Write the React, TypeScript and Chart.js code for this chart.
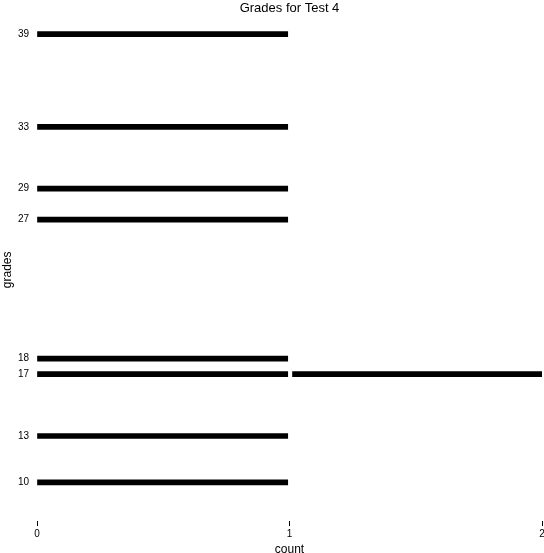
import React, { useEffect, useRef } from "react";
import { Chart, registerables } from "chart.js";

Chart.register(...registerables);

const TITLE = "Grades for Test 4";
const GRADES = [10, 13, 17, 18, 27, 29, 33, 39];
const COUNTS = [1, 1, 2, 1, 1, 1, 1, 1];
const X_TICKS = [0, 1, 2];
const X_LABEL = "count";
const Y_LABEL = "grades";

export default function App() {
  const ref = useRef<HTMLCanvasElement | null>(null);

  useEffect(() => {
    if (!ref.current) return;
    const segs: { x: [number, number]; y: number }[] = [];
    GRADES.forEach((g, i) => {
      for (let k = 0; k < COUNTS[i]; k++) {
        segs.push({ x: [k + (k > 0 ? 0.012 : 0), k + 1 - (k + 1 < COUNTS[i] || COUNTS[i] === 1 ? 0.007 : 0)], y: g });
      }
    });
    const font = "'Liberation Sans', Arial, Helvetica, sans-serif";
    const chart = new Chart(ref.current, {
      type: "bar",
      data: {
        datasets: [
          {
            data: segs as any,
            backgroundColor: "#000000",
            borderWidth: 0,
            barThickness: 5,
          },
        ],
      },
      options: {
        animation: false,
        responsive: false,
        indexAxis: "y",
        layout: { padding: 0 },
        plugins: {
          legend: { display: false },
          tooltip: { enabled: false },
          title: {
            display: true,
            text: TITLE,
            fullSize: false,
            color: "#000000",
            font: { family: font, size: 13, weight: "normal" },
            padding: { top: 1, bottom: 2 },
          },
        },
        scales: {
          x: {
            type: "linear",
            min: X_TICKS[0],
            max: X_TICKS[X_TICKS.length - 1],
            offset: false,
            afterBuildTicks: (s: any) => {
              s.ticks = X_TICKS.map((v) => ({ value: v }));
            },
            afterFit: (s: any) => {
              s.height = 32;
              s.paddingLeft = 0;
              s.paddingRight = 2;
            },
            border: { display: false },
            grid: {
              drawOnChartArea: false,
              drawTicks: true,
              tickLength: 5,
              color: "#000000",
              lineWidth: 1,
            },
            ticks: {
              color: "#000000",
              font: { family: font, size: 10 },
              padding: 2,
              maxRotation: 0,
            },
            title: {
              display: true,
              text: X_LABEL,
              color: "#000000",
              font: { family: font, size: 12 },
              padding: { top: 0, bottom: -4 },
            },
          },
          y: {
            type: "linear",
            min: 7.5,
            max: 40,
            offset: false,
            afterBuildTicks: (s: any) => {
              s.ticks = GRADES.map((v) => ({ value: v }));
            },
            afterFit: (s: any) => {
              s.width = 37;
              s.paddingTop = 0;
              s.paddingBottom = 0;
            },
            border: { display: false },
            grid: { display: false, drawTicks: false },
            ticks: {
              color: "#000000",
              font: { family: font, size: 10 },
              padding: 8,
              autoSkip: false,
            },
            title: {
              display: true,
              text: Y_LABEL,
              color: "#000000",
              font: { family: font, size: 12 },
              padding: { top: 0, bottom: 0 },
            },
          },
        },
      },
    });
    return () => chart.destroy();
  }, []);

  return (
    <div style={{ position: "absolute", left: 0, top: 0, width: 544, height: 553, background: "#fff" }}>
      <canvas ref={ref} width={544} height={553} style={{ display: "block" }} />
    </div>
  );
}
